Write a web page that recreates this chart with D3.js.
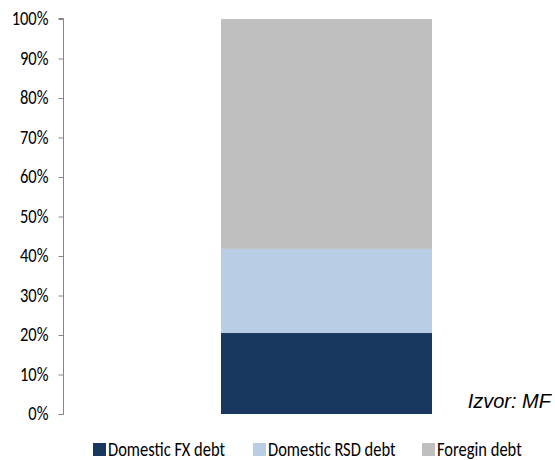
<!DOCTYPE html>
<html><head><meta charset="utf-8">
<script src="https://cdn.jsdelivr.net/npm/d3@7"></script>
<style>body{margin:0;background:#fff}</style>
</head><body>
<script>
const categories = ["Debt"];
const seriesNames = ["Domestic FX debt", "Domestic RSD debt", "Foregin debt"];
const fxValues = [20.5];
const rsdValues = [21.3];
const foreignValues = [58.2];
const tickValues = [0,10,20,30,40,50,60,70,80,90,100];
const colors = ["#17375E", "#B9CDE5", "#BFBFBF"];
const sourceLabel = "Izvor: MF";

const W = 555, H = 460;
const svg = d3.select("body").append("svg").attr("width", W).attr("height", H);
const font = "Carlito, 'Liberation Sans', sans-serif";
const vStretch = 1.2;

const y = d3.scaleLinear().domain([0,100]).range([414,19]);
const xb = d3.scaleBand().domain(categories).range([221,432]);

const rows = categories.map((c,i)=>({cat:c, "Domestic FX debt":fxValues[i], "Domestic RSD debt":rsdValues[i], "Foregin debt":foreignValues[i]}));
const stack = d3.stack().keys(seriesNames)(rows);

svg.append("g").selectAll("g").data(stack).join("g")
  .attr("fill",(d,i)=>colors[i])
  .selectAll("rect").data(d=>d).join("rect")
  .attr("x", d=>xb(d.data.cat))
  .attr("width", xb.bandwidth())
  .attr("y", d=>y(d[1]))
  .attr("height", d=>y(d[0])-y(d[1]));

const axis = d3.axisLeft(y).tickValues(tickValues).tickFormat(d=>d+"%").tickSize(5).tickPadding(10);
const ag = svg.append("g").attr("transform","translate(63.5,0)").call(axis);
ag.select(".domain").attr("stroke","#868686").attr("d","M-5,414.5H0V18.5H-5");
ag.selectAll(".tick line").attr("stroke","#868686");
ag.selectAll(".tick text").attr("font-family",font).attr("font-size",16.5).attr("fill","#000")
  .attr("dy","0.3em").attr("transform",`scale(1,${vStretch})`);

// legend
const legX = [93, 253, 422];
const lg = svg.append("g").selectAll("g").data(seriesNames).join("g")
  .attr("transform",(d,i)=>`translate(${legX[i]},443)`);
lg.append("rect").attr("width",13).attr("height",13).attr("fill",(d,i)=>colors[i]);
lg.append("text").attr("x",15).attr("y",13/vStretch).attr("transform",`scale(1,${vStretch})`)
  .attr("font-family",font).attr("font-size",16.5).attr("fill","#000").text(d=>d);

svg.append("text").attr("x",551).attr("y",408).attr("text-anchor","end")
  .attr("font-family","Arial, 'Liberation Sans', sans-serif").attr("font-style","italic")
  .attr("font-size",20).attr("fill","#000").text(sourceLabel);
</script>
</body></html>
